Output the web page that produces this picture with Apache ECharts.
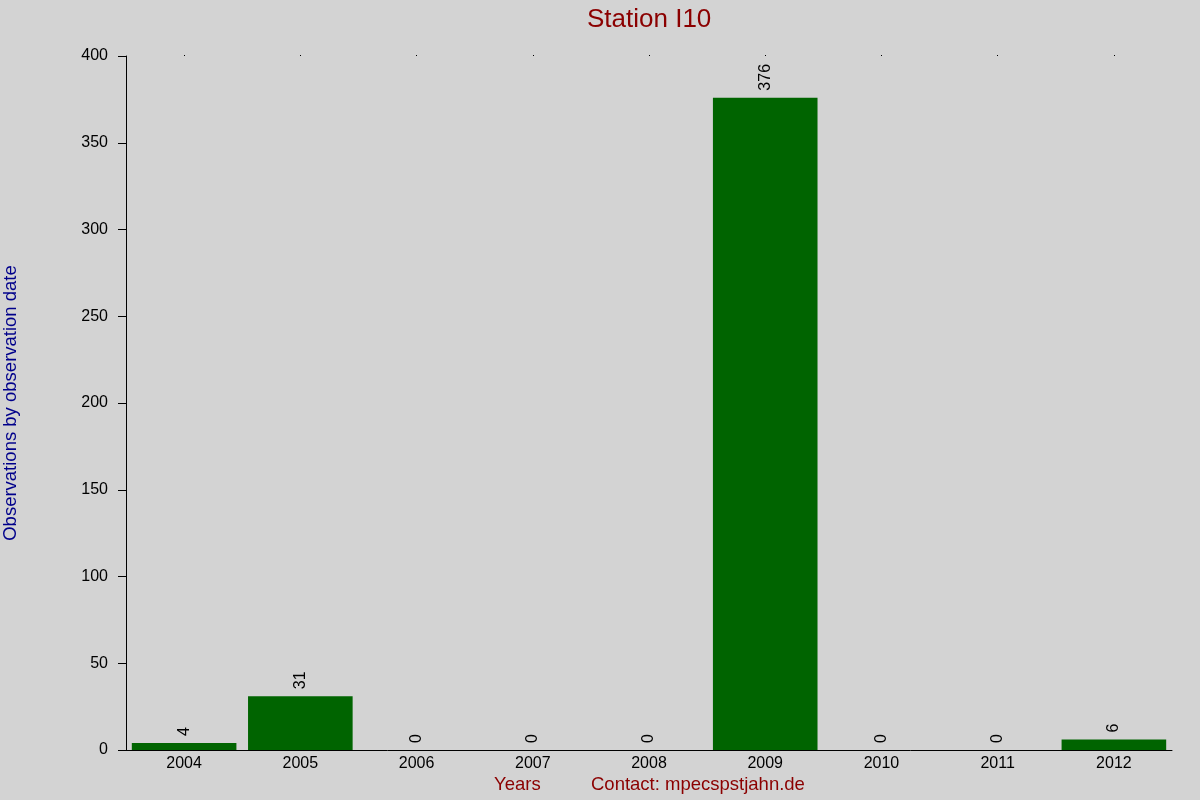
<!DOCTYPE html>
<html><head><meta charset="utf-8">
<script src="https://cdn.jsdelivr.net/npm/echarts@6/dist/echarts.min.js"></script>
<style>html,body{margin:0;padding:0;background:#d3d3d3}#c{width:1200px;height:800px}</style>
</head><body><div id="c"></div>
<script>
const years = ['2004','2005','2006','2007','2008','2009','2010','2011','2012'];
const observations = [4, 31, 0, 0, 0, 376, 0, 0, 6];
const yTicks = {min: 0, max: 400, interval: 50};

const FONT = 'Liberation Sans, Arial, sans-serif';
const chart = echarts.init(document.getElementById('c'), null, {renderer: 'canvas'});
chart.setOption({
  backgroundColor: '#d3d3d3',
  animation: false,
  title: {
    text: 'Station I10', left: 587, top: 7, padding: 0,
    textStyle: {color: '#8b0000', fontSize: 26, fontWeight: 'normal', fontFamily: FONT}
  },
  grid: {left: 126, right: 28, top: 56, bottom: 50, containLabel: false, outerBoundsMode: 'none'},
  xAxis: [{
    type: 'category', data: years,
    axisLine: {show: true, lineStyle: {color: '#000', width: 1}},
    axisTick: {show: false},
    axisLabel: {color: '#000', fontSize: 16, margin: 6, fontFamily: FONT}
  }, {
    type: 'category', data: years, position: 'top',
    axisLine: {show: false},
    axisTick: {show: true, length: 1, alignWithLabel: true, lineStyle: {color: '#000'}},
    axisLabel: {show: false}
  }],
  yAxis: {
    type: 'value', min: yTicks.min, max: yTicks.max, interval: yTicks.interval,
    name: 'Observations by observation date', nameLocation: 'middle', nameGap: 106,
    nameTextStyle: {color: '#00008b', fontSize: 18.5, fontFamily: FONT},
    axisLine: {show: true, lineStyle: {color: '#000', width: 1}},
    axisTick: {show: true, length: 8, lineStyle: {color: '#000'}},
    splitLine: {show: false},
    axisLabel: {color: '#000', fontSize: 16, margin: 18, fontFamily: FONT}
  },
  graphic: [
    {type: 'text', left: 494, top: 775, style: {text: 'Years', fill: '#8b0000', fontSize: 18.5, fontFamily: FONT}},
    {type: 'text', left: 591, top: 775, style: {text: 'Contact: mpecspstjahn.de', fill: '#8b0000', fontSize: 18.5, fontFamily: FONT}}
  ],
  series: [{
    type: 'bar', data: observations, barWidth: '90%', xAxisIndex: 0,
    itemStyle: {color: '#006400'},
    label: {show: true, position: 'top', rotate: 90, align: 'left', verticalAlign: 'middle', distance: 7,
      color: '#000', fontSize: 16, fontFamily: FONT}
  }]
});
</script></body></html>
